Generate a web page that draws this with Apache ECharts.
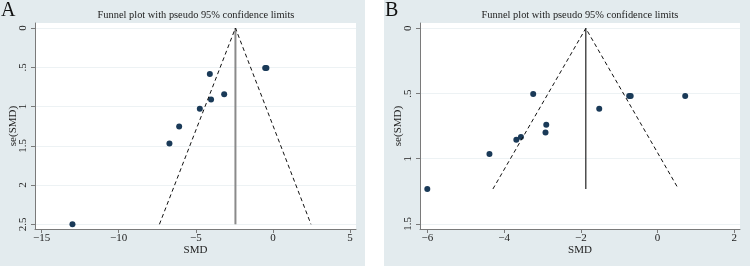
<!DOCTYPE html>
<html>
<head>
<meta charset="utf-8">
<script src="https://cdn.jsdelivr.net/npm/echarts@6/dist/echarts.min.js"></script>
<style>
  html, body { margin: 0; padding: 0; background: #fff; }
  #chart { width: 750px; height: 266px; }
</style>
</head>
<body>
<div id="chart"></div>
<script>
// panel A
const smdA = [-13, -6.71, -6.08, -4.74, -4.09, -4.01, -3.16, -0.5, -0.42];
const seA = [2.5, 1.47, 1.254, 1.029, 0.587, 0.91, 0.842, 0.51, 0.51];
const funnelSmdA = [-7.36, -2.43, 2.47];
const funnelSeA = [2.5, 0, 2.5];
const pooledSmdA = [-2.43, -2.43];
const pooledSeA = [0, 2.5];
const xTicksA = [-15, -10, -5, 0, 5];
const yTicksA = [0, 0.5, 1, 1.5, 2, 2.5];

// panel B
const smdB = [-6.0, -4.38, -3.68, -3.56, -3.24, -2.92, -2.90, -1.52, -0.74, -0.70, 0.72];
const seB = [1.232, 0.964, 0.854, 0.834, 0.504, 0.798, 0.739, 0.617, 0.519, 0.519, 0.519];
const funnelSmdB = [-4.29, -1.87, 0.545];
const funnelSeB = [1.232, 0, 1.232];
const pooledSmdB = [-1.87, -1.87];
const pooledSeB = [0, 1.232];
const xTicksB = [-6, -4, -2, 0, 2];
const yTicksB = [0, 0.5, 1, 1.5];

const serif = '"Liberation Serif", "DejaVu Serif", serif';
const bg = '#e3ebee';
const axisColor = '#7a7a7a';

function zip(xs, ys) {
  return xs.map((x, i) => [x, ys[i]]);
}

function xLabel(v) {
  return v < 0 ? '\u2212' + Math.abs(v) : String(v);
}

function yLabel(v) {
  return String(v).replace(/^0\./, '.');
}

function makeX(idx, min, max, ticks) {
  return {
    gridIndex: idx,
    type: 'value',
    min: min,
    max: max,
    name: 'SMD',
    nameLocation: 'middle',
    nameGap: 16,
    nameMoveOverlap: false,
    nameTextStyle: {fontFamily: serif, fontSize: 11, color: '#222'},
    axisLine: {show: true, onZero: false, lineStyle: {color: axisColor, width: 1}},
    axisTick: {show: true, length: 4, customValues: ticks, lineStyle: {color: axisColor}},
    axisLabel: {customValues: ticks, formatter: xLabel, margin: 4,
      fontFamily: serif, fontSize: 11, color: '#222'},
    splitLine: {show: false}
  };
}

function makeY(idx, min, max, ticks) {
  return {
    gridIndex: idx,
    type: 'value',
    inverse: true,
    min: min,
    max: max,
    name: 'se(SMD)',
    nameLocation: 'middle',
    nameRotate: 90,
    nameGap: 16,
    nameMoveOverlap: false,
    nameTextStyle: {fontFamily: serif, fontSize: 11, color: '#222'},
    axisLine: {show: true, onZero: false, lineStyle: {color: axisColor, width: 1}},
    axisTick: {show: true, length: 4, customValues: ticks, lineStyle: {color: axisColor}},
    axisLabel: {customValues: ticks, formatter: yLabel, rotate: 90, margin: 6,
      fontFamily: serif, fontSize: 11, color: '#222'},
    splitLine: {show: true, lineStyle: {color: '#edf2f4', width: 1}}
  };
}

function panelSeries(idx, smd, se, fSmd, fSe, pSmd, pSe, pColor, pWidth) {
  return [
    {
      type: 'line', xAxisIndex: idx, yAxisIndex: idx,
      data: zip(pSmd, pSe), symbol: 'none', silent: true,
      lineStyle: {color: pColor, width: pWidth}
    },
    {
      type: 'line', xAxisIndex: idx, yAxisIndex: idx,
      data: zip(fSmd, fSe), symbol: 'none', silent: true,
      lineStyle: {color: '#111', width: 1, type: [4, 3]}
    },
    {
      type: 'scatter', xAxisIndex: idx, yAxisIndex: idx,
      data: zip(smd, se), symbolSize: 6,
      itemStyle: {color: '#1a3a58', opacity: 1}
    }
  ];
}

const chart = echarts.init(document.getElementById('chart'));

const titleText = 'Funnel plot with pseudo 95% confidence limits';

chart.setOption({
  animation: false,
  backgroundColor: '#fff',
  graphic: [
    {type: 'rect', shape: {x: 0, y: 0, width: 365, height: 266}, style: {fill: bg}, z: -10},
    {type: 'rect', shape: {x: 384, y: 0, width: 366, height: 266}, style: {fill: bg}, z: -10},
    {type: 'text', x: 1, y: 1, style: {text: 'A', font: '20px ' + serif, fill: '#111'}},
    {type: 'text', x: 385, y: 1, style: {text: 'B', font: '20px ' + serif, fill: '#111'}},
    {type: 'text', x: 196, y: 15, style: {text: titleText, font: '10.4px ' + serif, fill: '#222',
      textAlign: 'center', textVerticalAlign: 'middle'}},
    {type: 'text', x: 580, y: 15, style: {text: titleText, font: '10.4px ' + serif, fill: '#222',
      textAlign: 'center', textVerticalAlign: 'middle'}}
  ],
  grid: [
    {left: 35, top: 23, width: 321, height: 206, show: true, backgroundColor: '#fff', borderWidth: 0},
    {left: 420, top: 23, width: 320, height: 206, show: true, backgroundColor: '#fff', borderWidth: 0}
  ],
  xAxis: [
    makeX(0, -15.43, 5.39, xTicksA),
    makeX(1, -6.19, 2.148, xTicksB)
  ],
  yAxis: [
    makeY(0, -0.064, 2.56, yTicksA),
    makeY(1, -0.041, 1.539, yTicksB)
  ],
  series: [
    ...panelSeries(0, smdA, seA, funnelSmdA, funnelSeA, pooledSmdA, pooledSeA, '#8a8a8a', 2),
    ...panelSeries(1, smdB, seB, funnelSmdB, funnelSeB, pooledSmdB, pooledSeB, '#333', 1.3)
  ]
});
</script>
</body>
</html>
